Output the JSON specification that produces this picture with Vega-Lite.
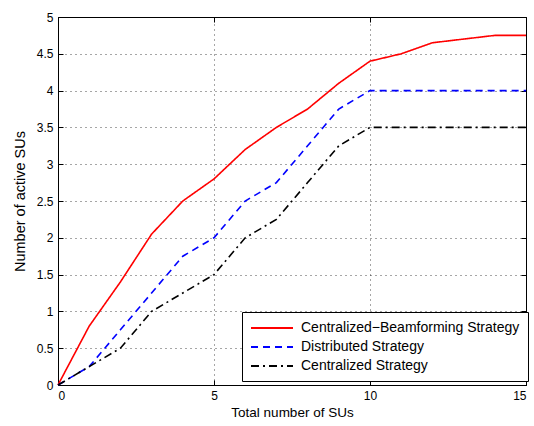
{
  "$schema": "https://vega.github.io/schema/vega-lite/v6.json",
  "width": 468,
  "height": 368,
  "autosize": {"type": "none"},
  "padding": {"left": 58, "top": 17, "right": 8, "bottom": 41},
  "background": "white",
  "config": {
    "font": "Liberation Sans",
    "view": {"stroke": "black", "strokeWidth": 1},
    "axis": {
      "labelFont": "Liberation Sans",
      "titleFont": "Liberation Sans",
      "labelFontSize": 12,
      "titleFontSize": 13.5,
      "titleFontWeight": "normal",
      "labelColor": "black",
      "titleColor": "black",
      "domainColor": "black",
      "tickColor": "black",
      "gridColor": "#000000",
      "gridDash": [1, 4],
      "gridOpacity": 0.7,
      "gridWidth": 1
    }
  },
  "data": {
    "values": [
      {"n": 0, "v": 0, "s": "Centralized\u2212Beamforming Strategy"},
      {"n": 1, "v": 0.8, "s": "Centralized\u2212Beamforming Strategy"},
      {"n": 2, "v": 1.4, "s": "Centralized\u2212Beamforming Strategy"},
      {"n": 3, "v": 2.05, "s": "Centralized\u2212Beamforming Strategy"},
      {"n": 4, "v": 2.5, "s": "Centralized\u2212Beamforming Strategy"},
      {"n": 5, "v": 2.8, "s": "Centralized\u2212Beamforming Strategy"},
      {"n": 6, "v": 3.2, "s": "Centralized\u2212Beamforming Strategy"},
      {"n": 7, "v": 3.5, "s": "Centralized\u2212Beamforming Strategy"},
      {"n": 8, "v": 3.75, "s": "Centralized\u2212Beamforming Strategy"},
      {"n": 9, "v": 4.1, "s": "Centralized\u2212Beamforming Strategy"},
      {"n": 10, "v": 4.4, "s": "Centralized\u2212Beamforming Strategy"},
      {"n": 11, "v": 4.5, "s": "Centralized\u2212Beamforming Strategy"},
      {"n": 12, "v": 4.65, "s": "Centralized\u2212Beamforming Strategy"},
      {"n": 13, "v": 4.7, "s": "Centralized\u2212Beamforming Strategy"},
      {"n": 14, "v": 4.75, "s": "Centralized\u2212Beamforming Strategy"},
      {"n": 15, "v": 4.75, "s": "Centralized\u2212Beamforming Strategy"},
      {"n": 0, "v": 0, "s": "Distributed Strategy"},
      {"n": 1, "v": 0.25, "s": "Distributed Strategy"},
      {"n": 2, "v": 0.75, "s": "Distributed Strategy"},
      {"n": 3, "v": 1.25, "s": "Distributed Strategy"},
      {"n": 4, "v": 1.75, "s": "Distributed Strategy"},
      {"n": 5, "v": 2.0, "s": "Distributed Strategy"},
      {"n": 6, "v": 2.5, "s": "Distributed Strategy"},
      {"n": 7, "v": 2.75, "s": "Distributed Strategy"},
      {"n": 8, "v": 3.25, "s": "Distributed Strategy"},
      {"n": 9, "v": 3.75, "s": "Distributed Strategy"},
      {"n": 10, "v": 4.0, "s": "Distributed Strategy"},
      {"n": 11, "v": 4.0, "s": "Distributed Strategy"},
      {"n": 12, "v": 4.0, "s": "Distributed Strategy"},
      {"n": 13, "v": 4.0, "s": "Distributed Strategy"},
      {"n": 14, "v": 4.0, "s": "Distributed Strategy"},
      {"n": 15, "v": 4.0, "s": "Distributed Strategy"},
      {"n": 0, "v": 0, "s": "Centralized Strategy"},
      {"n": 1, "v": 0.25, "s": "Centralized Strategy"},
      {"n": 2, "v": 0.5, "s": "Centralized Strategy"},
      {"n": 3, "v": 1.0, "s": "Centralized Strategy"},
      {"n": 4, "v": 1.25, "s": "Centralized Strategy"},
      {"n": 5, "v": 1.5, "s": "Centralized Strategy"},
      {"n": 6, "v": 2.0, "s": "Centralized Strategy"},
      {"n": 7, "v": 2.25, "s": "Centralized Strategy"},
      {"n": 8, "v": 2.75, "s": "Centralized Strategy"},
      {"n": 9, "v": 3.25, "s": "Centralized Strategy"},
      {"n": 10, "v": 3.5, "s": "Centralized Strategy"},
      {"n": 11, "v": 3.5, "s": "Centralized Strategy"},
      {"n": 12, "v": 3.5, "s": "Centralized Strategy"},
      {"n": 13, "v": 3.5, "s": "Centralized Strategy"},
      {"n": 14, "v": 3.5, "s": "Centralized Strategy"},
      {"n": 15, "v": 3.5, "s": "Centralized Strategy"}
    ]
  },
  "layer": [
    {
      "mark": {"type": "line", "opacity": 0},
      "encoding": {
        "x": {
          "field": "n",
          "type": "quantitative",
          "scale": {"domain": [0, 15], "nice": false},
          "axis": {"orient": "top", "values": [0, 5, 10, 15], "title": null, "labels": false, "grid": true, "domain": false, "tickSize": -5}
        },
        "y": {
          "field": "v",
          "type": "quantitative",
          "scale": {"domain": [0, 5], "nice": false},
          "axis": {"orient": "right", "values": [0, 0.5, 1, 1.5, 2, 2.5, 3, 3.5, 4, 4.5, 5], "title": null, "labels": false, "grid": true, "domain": false, "tickSize": -5}
        }
      }
    },
    {
      "mark": {"type": "line", "strokeWidth": 1.6},
      "encoding": {
        "x": {
          "field": "n",
          "type": "quantitative",
          "scale": {"domain": [0, 15], "nice": false},
          "axis": {"orient": "bottom", "values": [0, 5, 10, 15], "title": "Total number of SUs", "grid": false, "tickSize": -5, "labelPadding": 10, "titlePadding": 4}
        },
        "y": {
          "field": "v",
          "type": "quantitative",
          "scale": {"domain": [0, 5], "nice": false},
          "axis": {"orient": "left", "values": [0, 0.5, 1, 1.5, 2, 2.5, 3, 3.5, 4, 4.5, 5], "format": "~g", "title": "Number of active SUs", "titleFontSize": 14.5, "grid": false, "tickSize": -5, "labelPadding": 10, "titlePadding": 9}
        },
        "color": {
          "field": "s",
          "type": "nominal",
          "scale": {
            "domain": ["Centralized\u2212Beamforming Strategy", "Distributed Strategy", "Centralized Strategy"],
            "range": ["#ff0000", "#0000ff", "#000000"]
          },
          "legend": {
            "title": null,
            "orient": "none",
            "legendX": 184,
            "legendY": 295,
            "fillColor": "white",
            "strokeColor": "black",
            "padding": 8,
            "symbolType": "M-1,0H5",
            "symbolSize": 196,
            "symbolStrokeWidth": 2,
            "labelOffset": 35,
            "labelFontSize": 14,
            "labelFont": "Liberation Sans",
            "labelColor": "black",
            "labelLimit": 400,
            "rowPadding": 4,
            "offset": 0
          }
        },
        "strokeDash": {
          "field": "s",
          "type": "nominal",
          "scale": {
            "domain": ["Centralized\u2212Beamforming Strategy", "Distributed Strategy", "Centralized Strategy"],
            "range": [[1, 0], [7, 5], [8, 4, 2, 4]]
          },
          "legend": null
        }
      }
    }
  ],
  "resolve": {"axis": {"x": "independent", "y": "independent"}}
}
